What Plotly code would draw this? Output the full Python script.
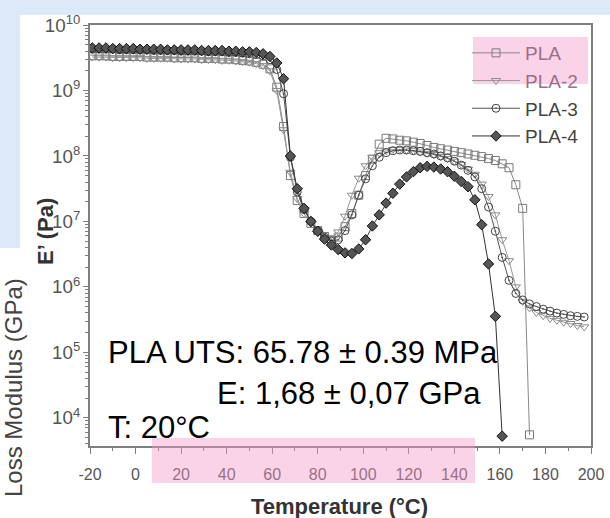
import plotly.graph_objects as go

# ---------------- data ----------------
TEMP = [-19, -16, -13, -10, -7, -4, -1, 2, 5, 8, 11, 14, 17, 20, 23, 26, 29, 32, 35, 38,
        41, 44, 47, 50, 53, 56, 59, 62, 65, 68, 71, 74, 77, 80, 83, 86, 89, 92, 95, 98,
        101, 104, 107, 110, 113, 116, 119, 122, 125, 128, 131, 134, 137, 140, 143, 146,
        149, 152, 155, 158, 161, 164, 167, 170, 173, 176, 179, 182, 185, 188, 191, 194, 197]

# log10 of E' (Pa)
PLA_LOG = [9.53, 9.53, 9.53, 9.52, 9.52, 9.52, 9.52, 9.52, 9.51, 9.51, 9.51, 9.51, 9.50, 9.50,
           9.50, 9.50, 9.49, 9.49, 9.49, 9.48, 9.48, 9.47, 9.46, 9.45, 9.43, 9.40, 9.33, 9.05,
           8.45, 7.70, 7.32, 7.12, 6.97, 6.86, 6.77, 6.72, 6.76, 6.92, 7.12, 7.40, 7.70, 7.95,
           8.18, 8.27, 8.26, 8.24, 8.23, 8.21, 8.19, 8.16, 8.13, 8.11, 8.09, 8.07, 8.05, 8.03,
           8.01, 7.99, 7.96, 7.93, 7.88, 7.82, 7.56, 7.20, 3.74]

PLA2_LOG = [9.51, 9.51, 9.51, 9.50, 9.50, 9.50, 9.50, 9.50, 9.49, 9.49, 9.49, 9.49, 9.48, 9.48,
            9.48, 9.48, 9.47, 9.47, 9.47, 9.46, 9.46, 9.45, 9.44, 9.43, 9.41, 9.38, 9.30, 9.00,
            8.40, 7.75, 7.35, 7.12, 6.97, 6.85, 6.76, 6.74, 6.84, 7.08, 7.40, 7.66, 7.85, 7.98,
            8.05, 8.08, 8.10, 8.10, 8.09, 8.08, 8.06, 8.04, 8.02, 7.99, 7.96, 7.92, 7.87, 7.80,
            7.72, 7.57, 7.38, 7.10, 6.72, 6.40, 6.00, 5.78, 5.68, 5.61, 5.56, 5.52, 5.49, 5.46,
            5.44, 5.41, 5.39]

PLA3_LOG = [9.63, 9.63, 9.63, 9.63, 9.62, 9.62, 9.62, 9.62, 9.62, 9.61, 9.61, 9.61, 9.61, 9.60,
            9.60, 9.60, 9.60, 9.59, 9.59, 9.59, 9.58, 9.58, 9.57, 9.56, 9.55, 9.53, 9.47, 9.32,
            8.95, 7.98, 7.45, 7.18, 7.00, 6.86, 6.76, 6.70, 6.72, 6.86, 7.10, 7.40, 7.65, 7.85,
            7.98, 8.05, 8.08, 8.09, 8.09, 8.08, 8.07, 8.05, 8.03, 8.00, 7.97, 7.92, 7.86, 7.78,
            7.68, 7.50, 7.22, 6.85, 6.45, 6.10, 5.90, 5.80, 5.74, 5.70, 5.66, 5.63, 5.60, 5.58,
            5.56, 5.55, 5.54]

PLA4_LOG = [9.65, 9.65, 9.65, 9.64, 9.64, 9.64, 9.64, 9.63, 9.63, 9.63, 9.63, 9.62, 9.62, 9.62,
            9.62, 9.62, 9.61, 9.61, 9.61, 9.61, 9.60, 9.60, 9.59, 9.59, 9.58, 9.56, 9.52, 9.42,
            9.18, 8.00, 7.50, 7.20, 7.00, 6.85, 6.73, 6.64, 6.57, 6.52, 6.51, 6.58, 6.72, 6.93,
            7.10, 7.28, 7.43, 7.57, 7.68, 7.76, 7.82, 7.84, 7.83, 7.80, 7.76, 7.69, 7.61, 7.53,
            7.33, 6.95, 6.35, 5.55, 3.72]

SERIES_NAMES = ["PLA", "PLA-2", "PLA-3", "PLA-4"]
SERIES_LOGS = [PLA_LOG, PLA2_LOG, PLA3_LOG, PLA4_LOG]

X_TICKS = [-20, 0, 20, 40, 60, 80, 100, 120, 140, 160, 180, 200]

X_TITLE = "Temperature (°C)"
Y_TITLE = "E’ (Pa)"
NOTE_LINE1 = "PLA UTS: 65.78 ± 0.39 MPa"
NOTE_LINE2 = "E: 1,68 ± 0,07 GPa"
NOTE_LINE3 = "T: 20°C"
SIDE_LABEL = "Loss Modulus (GPa)"

# ---------------- styling ----------------
W, H = 610, 518
L, R, T, B = 90, 19, 25, 72
PW, PH = W - L - R, H - T - B

def fx(px):
    return (px - L) / PW

def fy(py):
    return (H - B - py) / PH

FONT = "Liberation Sans, Arial, sans-serif"
styles = [
    dict(symbol="square-open", color="#7a7a7a", size=8, line=dict(width=1)),
    dict(symbol="triangle-down-open", color="#8a8a8a", size=8, line=dict(width=1)),
    dict(symbol="circle-open-dot", color="#444444", size=8, line=dict(width=1)),
    dict(symbol="diamond", color="#555555", size=8, line=dict(width=1, color="#111111")),
]
legend_names = [
    "<span style='color:#9a6f88'>PLA</span>",
    "<span style='color:#9a6f88'>PLA-2</span>",
    "PLA-3",
    "PLA-4",
]
line_colors = ["#888888", "#999999", "#555555", "#333333"]

fig = go.Figure()
for name, logs, st, lname, lc in zip(SERIES_NAMES, SERIES_LOGS, styles, legend_names, line_colors):
    xs = TEMP[:len(logs)]
    ys = [10 ** v for v in logs]
    fig.add_trace(go.Scatter(
        x=xs, y=ys, mode="lines+markers", name=lname,
        line=dict(color=lc, width=1),
        marker=st,
    ))

fig.update_layout(
    width=W, height=H,
    margin=dict(l=L, r=R, t=T, b=B, autoexpand=False),
    paper_bgcolor="white", plot_bgcolor="white",
    font=dict(family=FONT, color="#555555"),
    showlegend=True,
    legend=dict(
        x=fx(467), y=fy(34), xanchor="left", yanchor="top",
        bgcolor="rgba(0,0,0,0)", borderwidth=0,
        font=dict(size=19, color="#444444", family=FONT),
        itemwidth=48, tracegroupgap=0,
    ),
)

fig.update_xaxes(
    range=[-20, 200], tickmode="array", tickvals=X_TICKS,
    ticktext=[str(v) for v in X_TICKS],
    showgrid=False, zeroline=False,
    showline=True, linecolor="#7f7f7f", linewidth=1.5, mirror=True,
    ticks="outside", ticklen=6, tickcolor="#7f7f7f", tickwidth=1.2,
    minor=dict(ticks="outside", ticklen=3, tickcolor="#7f7f7f", dtick=10, tick0=-20, showgrid=False),
    tickfont=dict(size=16, color="#555555", family=FONT),
    ticklabelstandoff=7,
)
fig.update_yaxes(
    type="log", range=[3.57, 10.0], dtick=1,
    exponentformat="power", showexponent="all",
    showgrid=False, zeroline=False,
    showline=True, linecolor="#7f7f7f", linewidth=1.5, mirror=True,
    ticks="outside", ticklen=5, tickcolor="#7f7f7f", tickwidth=1.2,
    minor=dict(ticks="outside", ticklen=3, tickcolor="#7f7f7f", showgrid=False),
    tickfont=dict(size=15, color="#555555", family=FONT),
)

# background panels (light blue frame of the screenshot)
shapes = [
    dict(type="rect", xref="paper", yref="paper", x0=fx(0), x1=fx(W), y0=fy(0), y1=fy(15),
         fillcolor="#dce9f8", line=dict(width=0), layer="below"),
    dict(type="rect", xref="paper", yref="paper", x0=fx(0), x1=fx(20), y0=fy(15), y1=fy(248),
         fillcolor="#dce9f8", line=dict(width=0), layer="below"),
    # pink highlighter marks
    dict(type="rect", xref="paper", yref="paper", x0=fx(152), x1=fx(475), y0=fy(438), y1=fy(483),
         fillcolor="rgba(245,150,200,0.42)", line=dict(width=0), layer="above"),
    dict(type="rect", xref="paper", yref="paper", x0=fx(473), x1=fx(588), y0=fy(37), y1=fy(84),
         fillcolor="rgba(245,150,200,0.42)", line=dict(width=0), layer="above"),
]
fig.update_layout(shapes=shapes)

# axis titles
fig.add_annotation(text="<b>" + X_TITLE + "</b>", xref="paper", yref="paper", x=fx(339), y=fy(506),
                   xanchor="center", yanchor="middle", showarrow=False,
                   font=dict(size=22, color="#333333", family=FONT))
fig.add_annotation(text="<b>" + Y_TITLE + "</b>", xref="paper", yref="paper", x=fx(45), y=fy(232),
                   xanchor="center", yanchor="middle", showarrow=False, textangle=-90,
                   font=dict(size=22, color="#333333", family=FONT))

big = dict(size=31, color="#000000", family=FONT)
fig.add_annotation(text=NOTE_LINE1, xref="paper", yref="paper", x=fx(106), y=fy(352),
                   xanchor="left", yanchor="middle", showarrow=False, font=big)
fig.add_annotation(text=NOTE_LINE2, xref="paper", yref="paper", x=fx(215), y=fy(393),
                   xanchor="left", yanchor="middle", showarrow=False, font=big)
fig.add_annotation(text=NOTE_LINE3, xref="paper", yref="paper", x=fx(106), y=fy(427),
                   xanchor="left", yanchor="middle", showarrow=False, font=big)
fig.add_annotation(text=SIDE_LABEL, xref="paper", yref="paper", x=fx(13), y=fy(388),
                   xanchor="center", yanchor="middle", showarrow=False, textangle=-90,
                   font=dict(size=24, color="#444444", family=FONT))

fig.write_html("out.html")
